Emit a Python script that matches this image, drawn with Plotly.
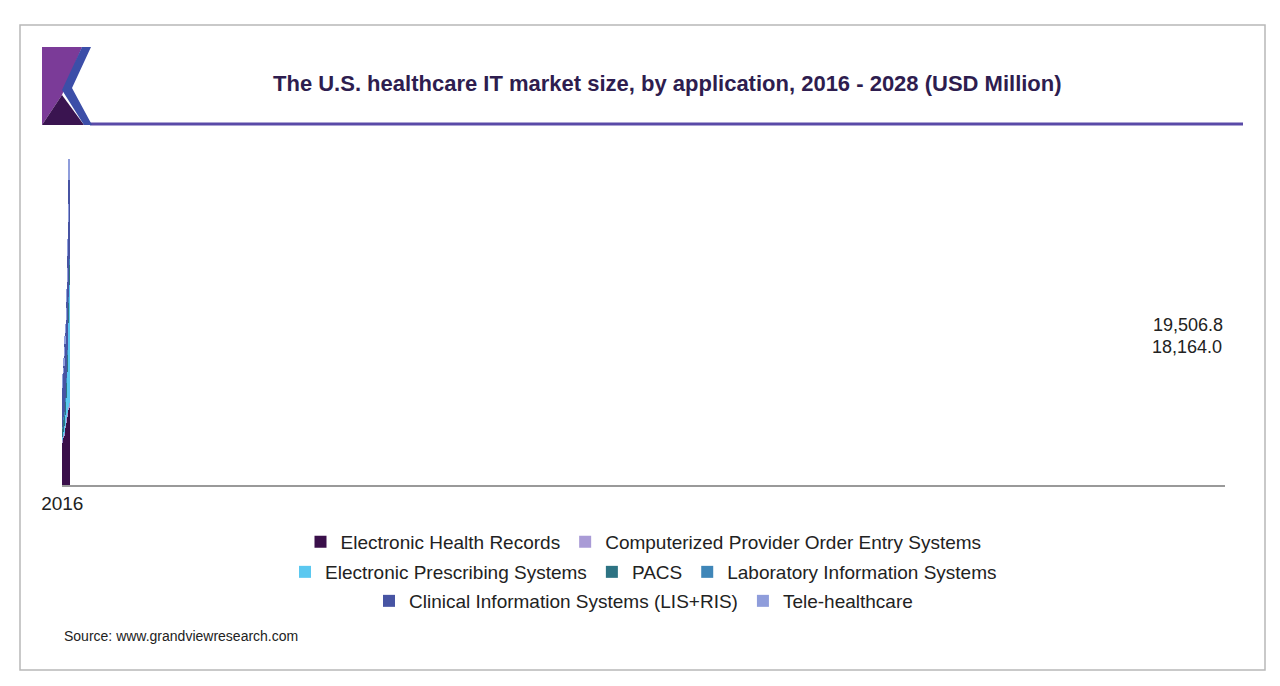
import plotly.graph_objects as go

years = [str(y) for y in range(2016, 2029)]

ehr = [7450, 7620, 8325, 8800, 9381, 10032, 10560, 10912, 11440, 12021, 12496, 13200, 13499]
cpoe = [440, 352, 299, 352, 299, 352, 528, 880, 581, 598, 704, 581, 880]
eps = [528, 792, 757, 1232, 1584, 1936, 2464, 3520, 5280, 7322, 10261, 14678, 20821]
pacs = [1408, 1232, 2112, 1760, 2288, 2288, 2640, 2640, 2640, 2939, 3238, 3520, 3520]
lab = [440, 440, 475, 757, 405, 704, 704, 880, 933, 880, 1056, 1162, 1056]
cis = [6750, 7656, 7744, 8096, 8747, 9504, 9856, 10261, 11317, 12021, 12602, 13094, 13957]
tele = [1148, 1414, 880, 1302, 1531, 1408, 1584, 2059, 2358, 2358, 2886, 3221, 3766]

labels = {"2016": "18,164.0", "2017": "19,506.8"}

series = [
    ("Electronic Health Records", ehr, "#3a0f4a", "legend"),
    ("Computerized Provider Order Entry Systems", cpoe, "#a99bd6", "legend"),
    ("Electronic Prescribing Systems", eps, "#5bc8f0", "legend2"),
    ("PACS", pacs, "#2d7383", "legend2"),
    ("Laboratory Information Systems", lab, "#3f86b8", "legend2"),
    ("Clinical Information Systems (LIS+RIS)", cis, "#4754a3", "legend3"),
    ("Tele-healthcare", tele, "#8f9ddb", "legend3"),
]

# page body has an 8px margin, so the figure is drawn 8px in from the screenshot edge
OFF = 8
W, H = 1280 - 2 * OFF, 686 - 2 * OFF
# plot area in screenshot pixels
L, R, T, B = 62, 1225, 150, 485


def px(x, y):
    return (x - L) / (R - L), (B - y) / (B - T)


fig = go.Figure()
for name, vals, color, leg in series:
    fig.add_trace(go.Bar(x=years, y=vals, name=name, marker_color=color,
                         marker_line_width=0, legend=leg))

totals = [sum(v) for v in zip(ehr, cpoe, eps, pacs, lab, cis, tele)]
shifts = {"2016": 35, "2017": 49}
for yr, txt in labels.items():
    i = years.index(yr)
    fig.add_annotation(x=yr, y=totals[i], text=txt, showarrow=False,
                       yshift=shifts[yr], font=dict(size=18, color="#222"))

# frame, title line, logo
fx0, fy0 = px(20, 670)
fx1, fy1 = px(1265, 25)
shapes = [dict(type="rect", xref="paper", yref="paper", x0=fx0, y0=fy0, x1=fx1, y1=fy1,
               line=dict(color="#b8b8b8", width=1.5), layer="below")]
lx0, ly = px(90, 124)
lx1, _ = px(1243, 124)
shapes.append(dict(type="line", xref="paper", yref="paper", x0=lx0, x1=lx1, y0=ly, y1=ly,
                   line=dict(color="#5a4aa8", width=3)))


def path(points):
    pts = [px(x, y) for x, y in points]
    return "M " + " L ".join(f"{a},{b}" for a, b in pts) + " Z"


shapes.append(dict(type="path", xref="paper", yref="paper", line_width=0, fillcolor="#7b3b98",
                   path=path([(42, 47), (82, 47), (62, 95), (42, 125)])))
shapes.append(dict(type="path", xref="paper", yref="paper", line_width=0, fillcolor="#3a1450",
                   path=path([(42, 125), (62, 95), (84, 125)])))
shapes.append(dict(type="path", xref="paper", yref="paper", line_width=0, fillcolor="#3c4ea8",
                   path=path([(82, 47), (91, 47), (72, 88), (92, 125), (84, 125), (62, 90)])))

tx, ty = px(667, 83)
fig.add_annotation(xref="paper", yref="paper", x=tx, y=ty, xanchor="center", yanchor="middle",
                   showarrow=False,
                   text="<b>The U.S. healthcare IT market size, by application, 2016 - 2028 (USD Million)</b>",
                   font=dict(size=22, color="#2e1d4f"))
sx, sy = px(62, 636)
fig.add_annotation(xref="paper", yref="paper", x=sx, y=sy, xanchor="left", yanchor="middle",
                   showarrow=False,
                   text="Source: www.grandviewresearch.com", font=dict(size=14, color="#222"))

leg_common = dict(orientation="h", xanchor="center", yanchor="middle", x=0.5,
                  font=dict(size=19, color="#222"), bgcolor="rgba(0,0,0,0)",
                  traceorder="normal", itemclick=False)
fig.update_layout(
    barmode="stack",
    bargap=0.58,
    width=W, height=H,
    margin=dict(l=L - OFF, r=W - (R - OFF), t=T - OFF, b=H - (B - OFF)),
    paper_bgcolor="white", plot_bgcolor="white",
    font=dict(family="Liberation Sans, Arial, sans-serif"),
    shapes=shapes,
    xaxis=dict(type="category", showline=True, linecolor="#999", linewidth=2, ticks="",
               tickfont=dict(size=19, color="#222"), showgrid=False),
    yaxis=dict(visible=False, range=[0, 59000]),
    legend=dict(**leg_common, y=px(0, 542)[1]),
    legend2=dict(**leg_common, y=px(0, 572)[1]),
    legend3=dict(**leg_common, y=px(0, 601)[1]),
)

fig.write_html("out.html")
